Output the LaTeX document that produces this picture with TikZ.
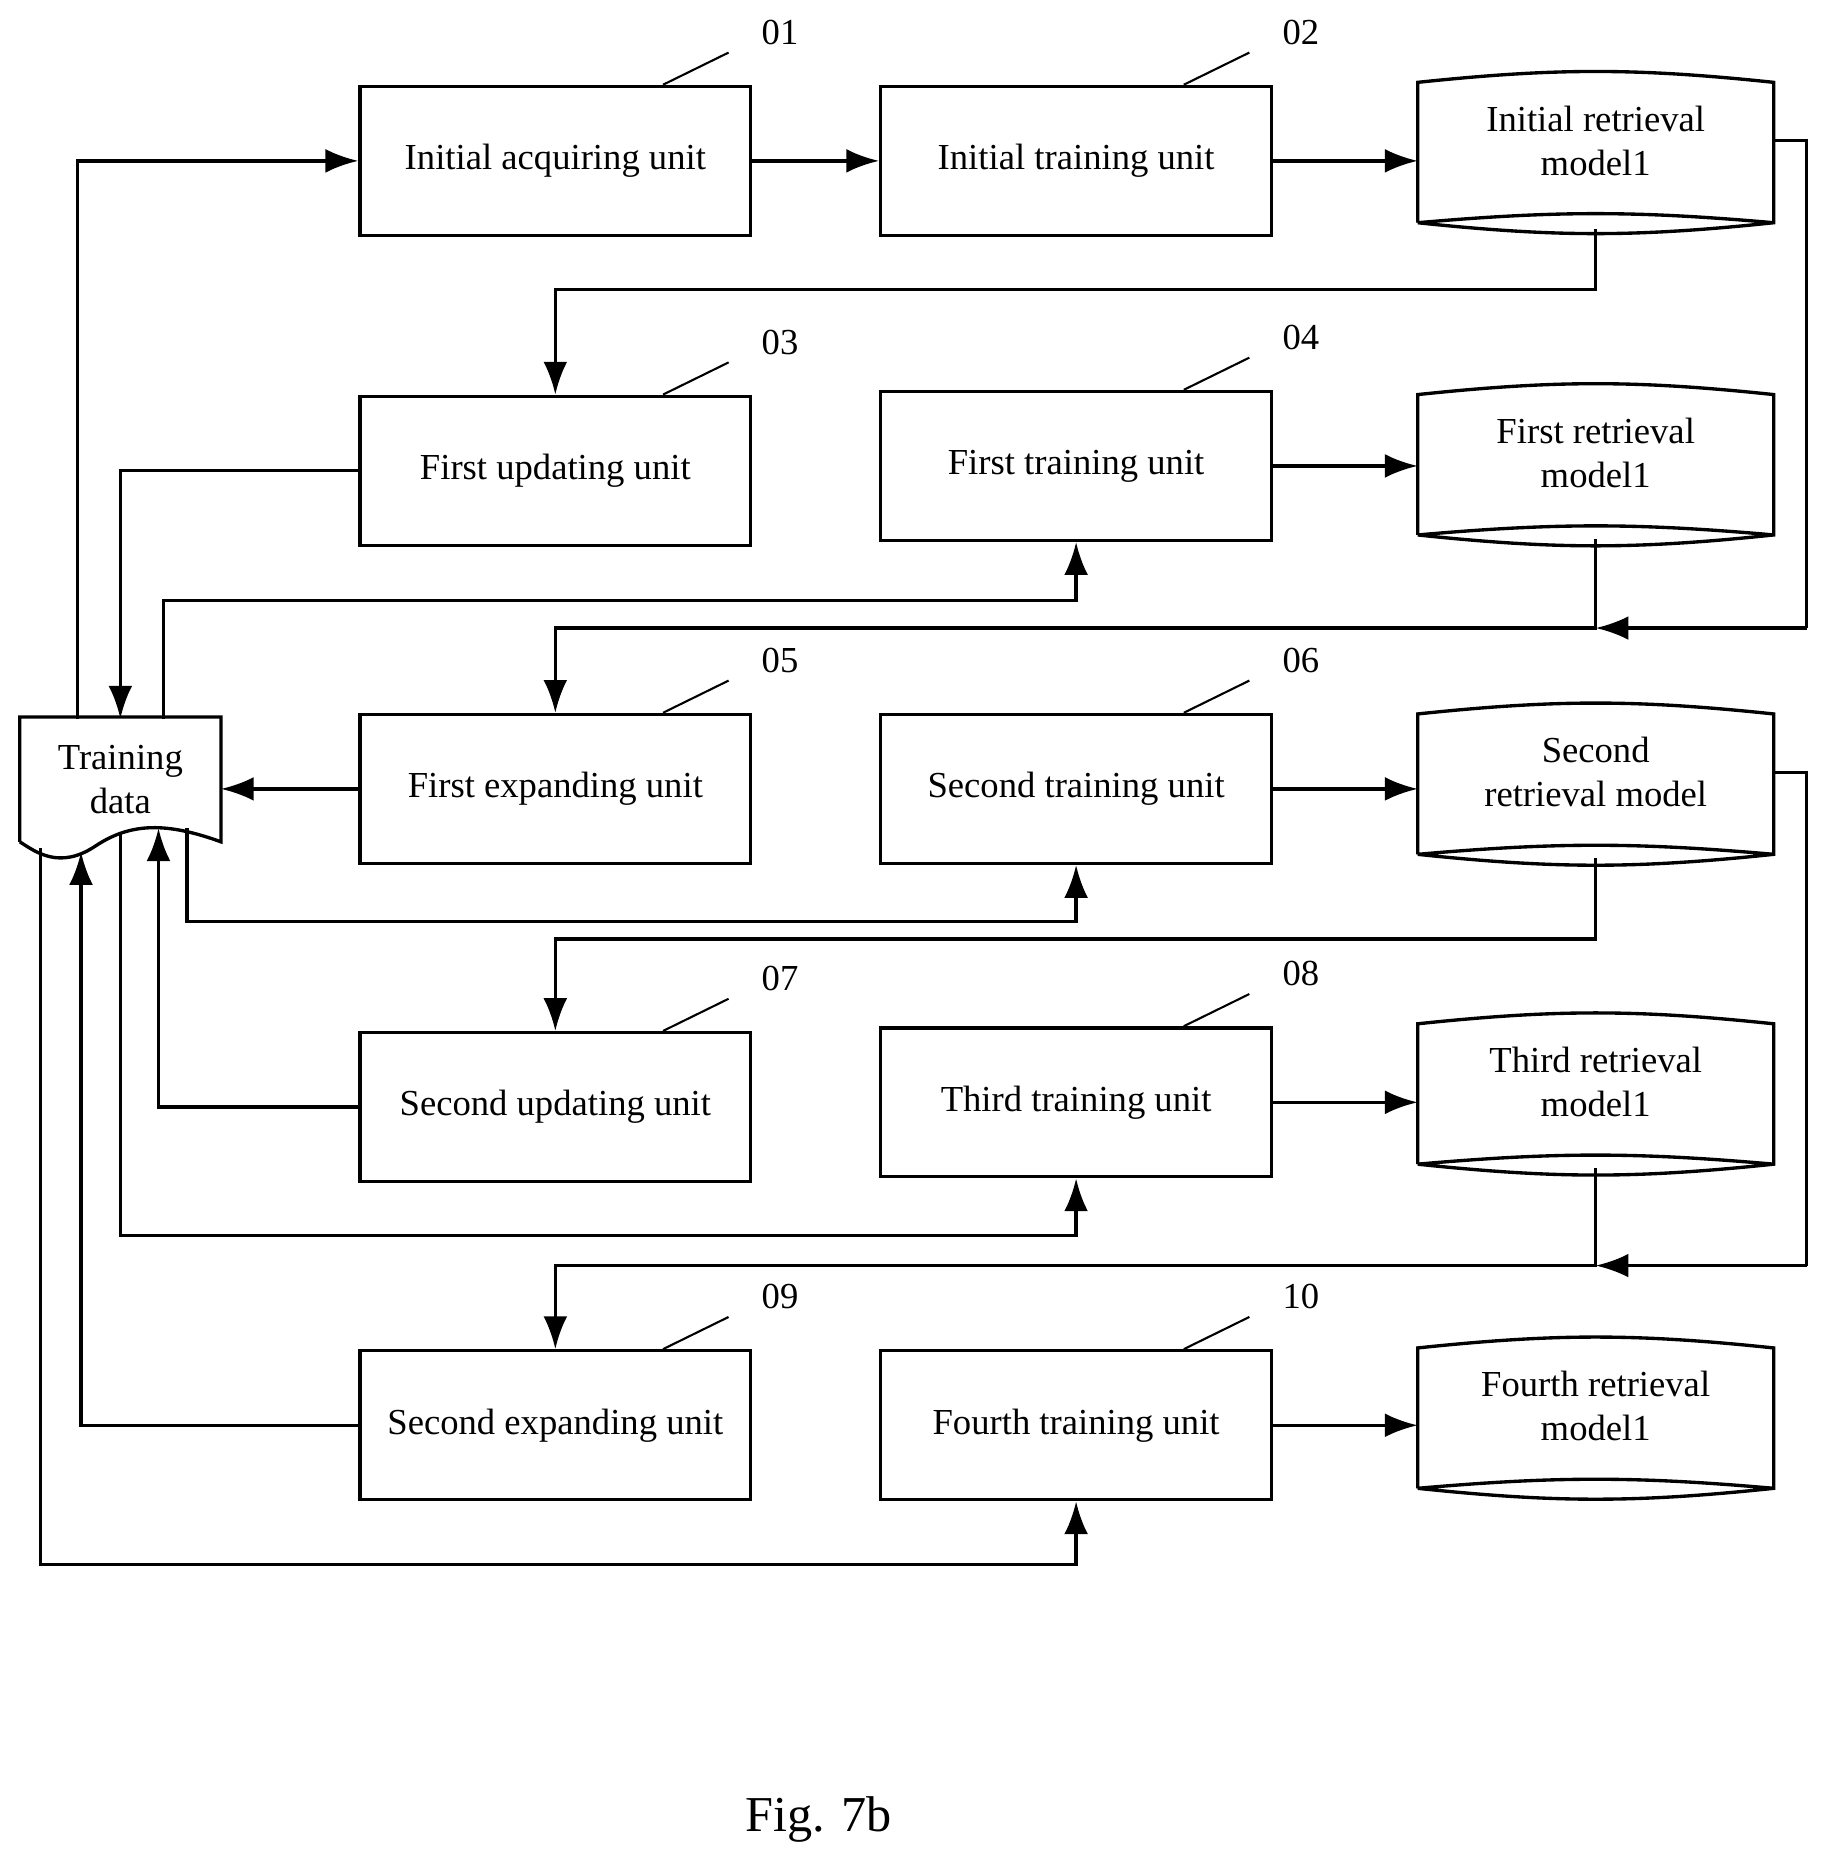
\documentclass[tikz,border=0pt]{standalone}
\usepackage{fontspec}
\setmainfont{Liberation Serif}
\usetikzlibrary{arrows.meta}
\tikzset{>={Latex[length=0.55cm,width=0.4cm]}}
\begin{document}
\begin{tikzpicture}[x=0.02cm, y=-0.02cm, line width=1.6pt,
    unit/.style={draw, rectangle, minimum width=6.56cm, minimum height=2.5cm, font=\fontsize{17.5}{21}\selectfont},
    model/.style={rectangle, minimum width=5.92cm, minimum height=2.3cm, align=center, font=\fontsize{17.5}{21}\selectfont},
    tag/.style={font=\fontsize{17.5}{21}\selectfont}]
\useasboundingbox (0,0) rectangle (1530,1565);
% units
\node[unit] (acq) at (466,135) {Initial acquiring unit};
\node[unit] (itr) at (903,135) {Initial training unit};
\node[unit] (upd1) at (466,395) {First updating unit};
\node[unit] (tr1) at (903,391) {First training unit};
\node[unit] (exp1) at (466,662) {First expanding unit};
\node[unit] (tr2) at (903,662) {Second training unit};
\node[unit] (upd2) at (466,929) {Second updating unit};
\node[unit] (tr3) at (903,925) {Third training unit};
\node[unit] (exp2) at (466,1196) {Second expanding unit};
\node[unit] (tr4) at (903,1196) {Fourth training unit};
% tags
\foreach \n/\t in {acq/01,itr/02,upd1/03,tr1/04,exp1/05,tr2/06,upd2/07,tr3/08,exp2/09,tr4/10}{
  \draw[line width=1pt] ([xshift=-1.5cm]\n.north east) -- ++(55,-27) node[tag, anchor=south west, xshift=12pt] {\t};
}
% retrieval models
\foreach \n/\y/\t in {m0/128/{Initial retrieval\\model1},m1/390/{First retrieval\\model1},m2/658/{Second\\retrieval model},m3/918/{Third retrieval\\model1},m4/1190/{Fourth retrieval\\model1}}{
  \node[model] (\n) at (1339,\y) {};
  \node[model, draw=none] at ([yshift=0.2cm]\n.center) {\t};
  \draw (\n.south west) -- (\n.north west) to[bend left=6] (\n.north east) -- (\n.south east)
        to[bend left=6] (\n.south west) to[bend left=5] (\n.south east);
}
% training data
\node[minimum width=3.32cm, minimum height=2.04cm, align=center, font=\fontsize{17.5}{21}\selectfont] (td) at (101,654) {Training\\data};
\draw (td.south west) -- (td.north west) -- (td.north east) -- (td.south east)
  .. controls (140,690) and (110,690) .. (80,710) .. controls (50,730) and (30,715) .. (td.south west);
% connectors
\draw[->] (65,603) |- (acq.west);
\draw[->] (acq) -- (itr);
\draw[->] (itr) -- (itr -| m0.west);
\draw[->] (1339,192) |- (466,243) -- (upd1.north);
\draw (m0.east |- 118,118) -| (1516,527);
\draw[->] (1516,527) -- (1339,527);
\draw[->] (1339,452) |- (466,527) -- (exp1.north);
\draw[->] (upd1.west) -| (101,603);
\draw[->] (137,603) |- (903,504) -- (tr1.south);
\draw[->] (tr1) -- (tr1 -| m1.west);
\draw[->] (exp1.west) -- (exp1.west -| td.east);
\draw[->] (tr2) -- (tr2 -| m2.west);
\draw[->] (157,695) |- (903,773) -- (tr2.south);
\draw[->] (1339,720) |- (466,788) -- (upd2.north);
\draw (m2.east |- 648,648) -| (1516,1062);
\draw[->] (1516,1062) -- (1339,1062);
\draw[->] (1339,980) |- (466,1062) -- (exp2.north);
\draw[->] (upd2.west) -| (133,695);
\draw[->] (101,700) |- (903,1037) -- (tr3.south);
\draw[->] (tr3) -- (tr3 -| m3.west);
\draw[->] (exp2.west) -| (68,715);
\draw[->] (34,712) |- (903,1313) -- (tr4.south);
\draw[->] (tr4) -- (tr4 -| m4.west);
\node[font=\fontsize{24}{28}\selectfont] (cap) at (687,1527) {Fig. 7b};
\end{tikzpicture}
\end{document}
